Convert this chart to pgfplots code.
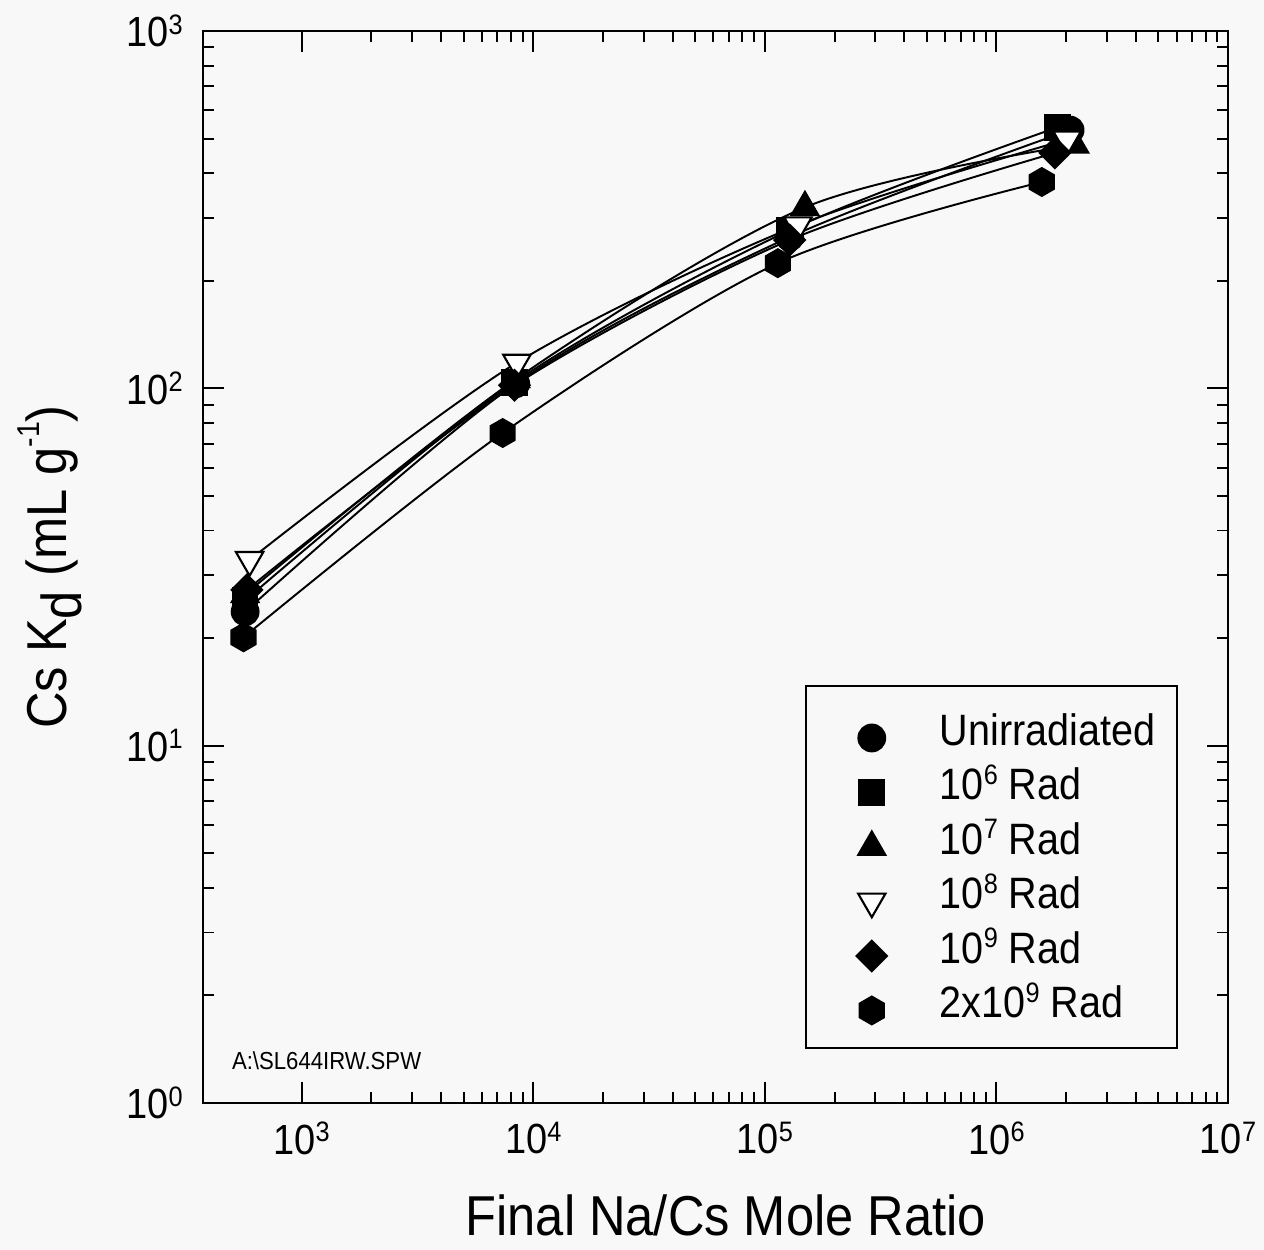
\documentclass[border=0pt]{standalone}
\usepackage{fontspec}
\setmainfont{Liberation Sans}[FakeStretch=0.9]
\usepackage{pgfplots}
\usepackage{pgfplotstable}
\pgfplotsset{compat=1.18}

\definecolor{paper}{RGB}{248,248,248}

% hexagon mark, vertex up
\pgfdeclareplotmark{hexagon*}{%
  \pgfpathmoveto{\pgfpointpolar{90}{\pgfplotmarksize}}%
  \pgfpathlineto{\pgfpointpolar{150}{\pgfplotmarksize}}%
  \pgfpathlineto{\pgfpointpolar{210}{\pgfplotmarksize}}%
  \pgfpathlineto{\pgfpointpolar{270}{\pgfplotmarksize}}%
  \pgfpathlineto{\pgfpointpolar{330}{\pgfplotmarksize}}%
  \pgfpathlineto{\pgfpointpolar{30}{\pgfplotmarksize}}%
  \pgfpathclose
  \pgfusepathqfillstroke}

\newcommand{\tk}[1]{10\raisebox{7pt}{\fontsize{16}{16}\selectfont #1}}
\newcommand{\lx}[1]{10\raisebox{9pt}{\fontsize{16}{16}\selectfont #1}}

% Na/Cs ratio, Kd
\pgfplotstableread{
x y
570 23.7
8400 103
128000 265
2080000 528
}\unirr
\pgfplotstableread{
x y
570 25.5
8300 104
128000 277
1840000 538
}\radsix
\pgfplotstableread{
x y
570 26.5
8400 106
149000 321
2180000 480
}\radseven
\pgfplotstableread{
x y
596 33.1
8500 118
139000 286
2020000 497
}\radeight
\pgfplotstableread{
x y
580 27.3
8300 102
128000 260
1790000 456
}\radnine
\pgfplotstableread{
x y
561 20.1
7380 75
113800 224
1570000 378
}\radtwonine

\begin{document}
\begin{tikzpicture}
\fill[paper] (-4.06cm,-2.94cm) rectangle ++(25.28cm,25cm);
\begin{axis}[
  scale only axis, width=20.5cm, height=21.44cm,
  xmode=log, ymode=log,
  xmin=375, xmax=1e7, ymin=1, ymax=1000,
  xtick={1e3,1e4,1e5,1e6,1e7},
  xticklabels={\tk{3},\tk{4},\tk{5},\tk{6},\tk{7}},
  ytick={1,10,100,1000},
  yticklabels={\tk{0},\tk{1},\tk{2},\tk{3}},
  tick align=inside,
  major tick length=0.42cm, minor tick length=0.22cm,
  every tick/.style={black, line width=1.1pt},
  axis line style={line width=1.4pt},
  tick label style={font=\fontsize{24}{24}\selectfont, inner sep=0pt},
  xticklabel style={yshift=-0.38cm},
  yticklabel style={xshift=-0.4cm},
  xlabel={Final Na/Cs Mole Ratio},
  ylabel={Cs K\raisebox{-9pt}{d} (mL g\raisebox{15pt}{\fontsize{18}{18}\selectfont -1})},
  label style={font=\fontsize{32}{32}\selectfont},
  xlabel style={at={(axis description cs:0.51,-0.124)}, anchor=base},
  ylabel style={at={(axis description cs:-0.149,0.5)}, anchor=center},
  legend style={at={(axis description cs:0.587,0.39)}, anchor=north west,
    draw=black, line width=1.2pt, fill=paper,
    inner xsep=0.44cm, inner ysep=0.35cm, row sep=0pt, column sep=0pt,
    font=\fontsize{25}{25}\selectfont,
    nodes={inner sep=0pt, text height=0.84cm, text depth=0.25cm},
    cells={anchor=base west}},
  legend image code/.code={%
    \path (0cm,0cm) (2.2cm,0cm);
    \draw[#1] plot coordinates {(0.86cm,0.15cm)};},
]
\addplot[smooth, no marks, line width=1.1pt, forget plot] table {\unirr};
\addplot[smooth, no marks, line width=1.1pt, forget plot] table {\radsix};
\addplot[smooth, no marks, line width=1.1pt, forget plot] table {\radseven};
\addplot[smooth, no marks, line width=1.1pt, forget plot] table {\radeight};
\addplot[smooth, no marks, line width=1.1pt, forget plot] table {\radnine};
\addplot[smooth, no marks, line width=1.1pt, forget plot] table {\radtwonine};

\addplot[only marks, mark=*, mark size=7.7pt, mark options={draw=black, fill=black, line width=1pt}] table {\unirr};
\addlegendentry{Unirradiated}
\addplot[only marks, mark=square*, mark size=7.1pt, mark options={draw=black, fill=black, line width=1pt}] table {\radsix};
\addlegendentry{\lx{6} Rad}
\addplot[only marks, mark=triangle*, mark size=9pt, mark options={draw=black, fill=black, line width=1pt}] table {\radseven};
\addlegendentry{\lx{7} Rad}
\addplot[only marks, mark=triangle*, mark size=9pt, mark options={rotate=180, draw=black, fill=white, line width=1.2pt}] table {\radeight};
\addlegendentry{\lx{8} Rad}
\addplot[only marks, mark=square*, mark size=6.2pt, mark options={rotate=45, draw=black, fill=black, line width=1pt}] table {\radnine};
\addlegendentry{\lx{9} Rad}
\addplot[only marks, mark=hexagon*, mark size=8pt, mark options={draw=black, fill=black, line width=1pt}] table {\radtwonine};
\addlegendentry{2x\lx{9} Rad}

\node[anchor=base west, font=\fontsize{14}{14}\selectfont, inner sep=0pt]
  at (axis description cs:0.028,0.031) {A:\textbackslash SL644IRW.SPW};
\end{axis}
\pgfresetboundingbox
\path (-4.06cm,-2.94cm) rectangle ++(25.28cm,25cm);
\end{tikzpicture}
\end{document}
